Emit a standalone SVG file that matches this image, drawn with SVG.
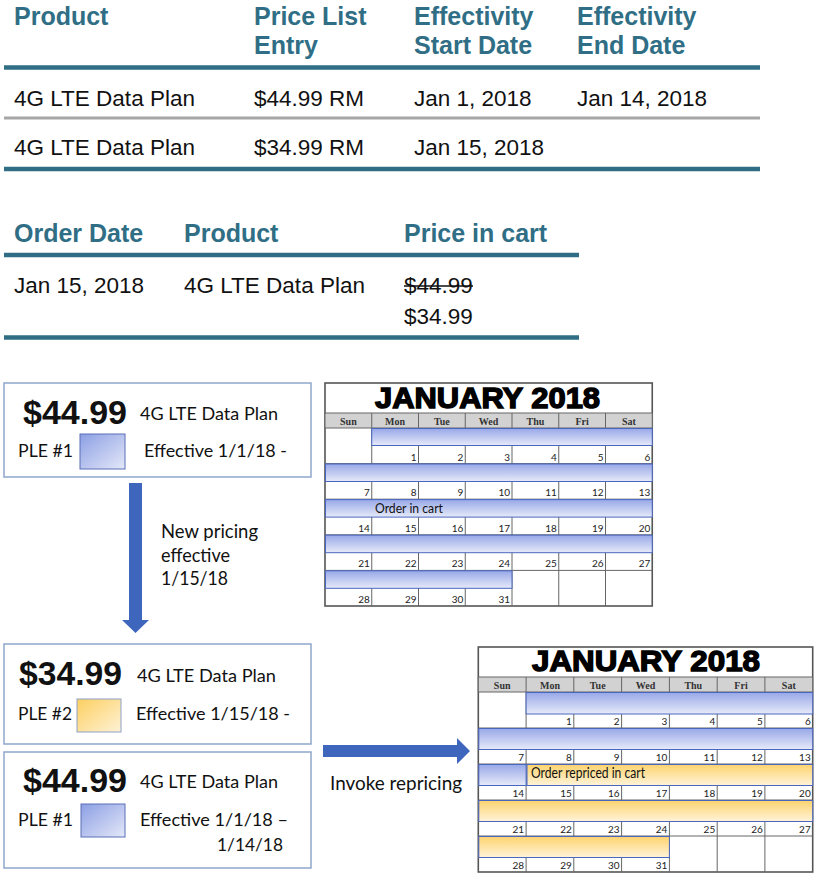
<svg xmlns="http://www.w3.org/2000/svg" width="817" height="875" viewBox="0 0 817 875">
<style>
.hd{font-family:"Liberation Sans",Arial,sans-serif;font-weight:bold;font-size:25px;fill:#2f6e85}
.td{font-family:"Liberation Sans",Arial,sans-serif;font-size:22.5px;fill:#111}
.tl{stroke:#2f6e85;stroke-width:4.5}
.big{font-family:"Liberation Sans",Arial,sans-serif;font-weight:bold;font-size:33px;fill:#111}
.cb{font-family:Lato,"Noto Sans",sans-serif;font-size:16.5px;fill:#111}
.lbl{font-family:Lato,"Noto Sans",sans-serif;font-size:18.5px;fill:#111}
.box{fill:#fff;stroke:#8fa6cc;stroke-width:1.5}
.ttl{font-family:"Liberation Sans",Arial,sans-serif;font-weight:bold;font-size:29px;fill:#000;stroke:#000;stroke-width:1.4}
.day{font-family:"Liberation Serif","Times New Roman",serif;font-weight:bold;font-size:10px;fill:#333;text-anchor:middle}
.num{font-family:Lato,"Noto Sans",sans-serif;font-size:10px;fill:#222;text-anchor:end}
.grid{stroke:#666;stroke-width:1;fill:none}
.cal{fill:#fff;stroke:#555;stroke-width:1.6}
.hdr{fill:#d2d2d2;stroke:#666;stroke-width:1}
.bb{fill:url(#gb);stroke:#4a67c0;stroke-width:1}
.bo{fill:url(#go);stroke:#4a67c0;stroke-width:1}
.bar{font-family:Lato,"Noto Sans",sans-serif;fill:#111}
.arr{fill:#3f66bd}
</style>
<defs>
<linearGradient id="gb" x1="0" y1="0" x2="0" y2="1"><stop offset="0" stop-color="#98a8e8"/><stop offset="1" stop-color="#e6eaf9"/></linearGradient>
<linearGradient id="go" x1="0" y1="0" x2="0" y2="1"><stop offset="0" stop-color="#fcd36e"/><stop offset="1" stop-color="#fff3d9"/></linearGradient>
<linearGradient id="sb" x1="0" y1="0" x2="1" y2="1"><stop offset="0" stop-color="#8c9fe4"/><stop offset="1" stop-color="#e4e8f8"/></linearGradient>
<linearGradient id="so" x1="0" y1="0" x2="1" y2="1"><stop offset="0" stop-color="#fccf60"/><stop offset="1" stop-color="#fef2d6"/></linearGradient>
</defs>

<g id="price-list-table">
<text class="hd" x="14" y="25">Product</text>
<text class="hd" x="254" y="25">Price List</text>
<text class="hd" x="254" y="54">Entry</text>
<text class="hd" x="414" y="25">Effectivity</text>
<text class="hd" x="414" y="54">Start Date</text>
<text class="hd" x="577" y="25">Effectivity</text>
<text class="hd" x="577" y="54">End Date</text>
<line class="tl" x1="4" y1="67.5" x2="760" y2="67.5"/>
<text class="td" x="14" y="106">4G LTE Data Plan</text>
<text class="td" x="254" y="106">$44.99 RM</text>
<text class="td" x="414" y="106">Jan 1, 2018</text>
<text class="td" x="577" y="106">Jan 14, 2018</text>
<line x1="4" y1="118" x2="760" y2="118" stroke="#a6a6a6" stroke-width="3"/>
<text class="td" x="14" y="155">4G LTE Data Plan</text>
<text class="td" x="254" y="155">$34.99 RM</text>
<text class="td" x="414" y="155">Jan 15, 2018</text>
<line class="tl" x1="4" y1="169" x2="760" y2="169"/>
</g>

<g id="cart-table">
<text class="hd" x="14" y="242">Order Date</text>
<text class="hd" x="184" y="242">Product</text>
<text class="hd" x="404" y="242">Price in cart</text>
<line class="tl" x1="4" y1="255" x2="579" y2="255"/>
<text class="td" x="14" y="293">Jan 15, 2018</text>
<text class="td" x="184" y="293">4G LTE Data Plan</text>
<text class="td" x="404" y="293">$44.99</text>
<line x1="404" y1="286" x2="473" y2="286" stroke="#111" stroke-width="1.5"/>
<text class="td" x="404" y="324">$34.99</text>
<line class="tl" x1="4" y1="337.5" x2="579" y2="337.5"/>
</g>

<g id="ple1-box">
<rect class="box" x="4" y="383" width="307" height="94"/>
<text class="big" x="23" y="424" textLength="104" lengthAdjust="spacingAndGlyphs">$44.99</text>
<text class="cb" x="140" y="420" textLength="138" lengthAdjust="spacingAndGlyphs">4G LTE Data Plan</text>
<text class="cb" x="18" y="457" textLength="55" lengthAdjust="spacingAndGlyphs">PLE #1</text>
<rect x="80" y="434" width="45" height="35" fill="url(#sb)" stroke="#5a6fb8" stroke-width="1"/>
<text class="cb" x="144" y="457" textLength="143" lengthAdjust="spacingAndGlyphs">Effective 1/1/18 -</text>
</g>

<g id="ple2-box">
<rect class="box" x="4" y="644" width="307" height="100"/>
<text class="big" x="19" y="685" textLength="103" lengthAdjust="spacingAndGlyphs">$34.99</text>
<text class="cb" x="137" y="682" textLength="139" lengthAdjust="spacingAndGlyphs">4G LTE Data Plan</text>
<text class="cb" x="18" y="720" textLength="54" lengthAdjust="spacingAndGlyphs">PLE #2</text>
<rect x="77" y="699" width="44" height="33" fill="url(#so)" stroke="#8ea0c8" stroke-width="1"/>
<text class="cb" x="136" y="720" textLength="154" lengthAdjust="spacingAndGlyphs">Effective 1/15/18 -</text>
</g>

<g id="ple1-box-ended">
<rect class="box" x="4" y="752" width="307" height="116"/>
<text class="big" x="23" y="792" textLength="104" lengthAdjust="spacingAndGlyphs">$44.99</text>
<text class="cb" x="140" y="788" textLength="138" lengthAdjust="spacingAndGlyphs">4G LTE Data Plan</text>
<text class="cb" x="18" y="826" textLength="55" lengthAdjust="spacingAndGlyphs">PLE #1</text>
<rect x="81" y="804" width="44" height="33" fill="url(#sb)" stroke="#5a6fb8" stroke-width="1"/>
<text class="cb" x="140" y="826" textLength="148" lengthAdjust="spacingAndGlyphs">Effective 1/1/18 –</text>
<text class="cb" x="217" y="851" textLength="66" lengthAdjust="spacingAndGlyphs">1/14/18</text>
</g>

<g id="calendar-1">
<rect class="cal" x="325" y="383" width="327.25" height="223"/>
<text class="ttl" x="375" y="408" textLength="225" lengthAdjust="spacingAndGlyphs">JANUARY 2018</text>
<rect class="hdr" x="325" y="413" width="327.25" height="15"/>
<path class="grid" d="M371.75 413V606M418.5 413V606M465.25 413V606M512 413V606M558.75 413V606M605.5 413V606M325 463.6H652.25M325 499.2H652.25M325 534.8H652.25M325 570.4H652.25"/>
<g class="day">
<text x="348.4" y="424.5">Sun</text><text x="395.1" y="424.5">Mon</text><text x="441.9" y="424.5">Tue</text><text x="488.6" y="424.5">Wed</text><text x="535.4" y="424.5">Thu</text><text x="582.1" y="424.5">Fri</text><text x="628.9" y="424.5">Sat</text>
</g>
<rect class="bb" x="371.75" y="428.5" width="280.5" height="17"/>
<rect class="bb" x="325.5" y="464" width="326.75" height="17.5"/>
<rect class="bb" x="325.5" y="499.6" width="326.75" height="17.5"/>
<rect class="bb" x="325.5" y="535.2" width="326.75" height="17.5"/>
<rect class="bb" x="325.5" y="570.8" width="186.5" height="17.5"/>
<text class="bar" x="375" y="512.5" font-size="12.5" textLength="68" lengthAdjust="spacingAndGlyphs">Order in cart</text>
<g class="num">
<text x="416.5" y="460.6">1</text><text x="463.25" y="460.6">2</text><text x="510" y="460.6">3</text><text x="556.75" y="460.6">4</text><text x="603.5" y="460.6">5</text><text x="650.25" y="460.6">6</text>
<text x="369.75" y="496.2">7</text><text x="416.5" y="496.2">8</text><text x="463.25" y="496.2">9</text><text x="510" y="496.2">10</text><text x="556.75" y="496.2">11</text><text x="603.5" y="496.2">12</text><text x="650.25" y="496.2">13</text>
<text x="369.75" y="531.8">14</text><text x="416.5" y="531.8">15</text><text x="463.25" y="531.8">16</text><text x="510" y="531.8">17</text><text x="556.75" y="531.8">18</text><text x="603.5" y="531.8">19</text><text x="650.25" y="531.8">20</text>
<text x="369.75" y="567.4">21</text><text x="416.5" y="567.4">22</text><text x="463.25" y="567.4">23</text><text x="510" y="567.4">24</text><text x="556.75" y="567.4">25</text><text x="603.5" y="567.4">26</text><text x="650.25" y="567.4">27</text>
<text x="369.75" y="603">28</text><text x="416.5" y="603">29</text><text x="463.25" y="603">30</text><text x="510" y="603">31</text>
</g>
</g>

<g id="calendar-2">
<rect class="cal" x="478.3" y="647" width="334.4" height="225"/>
<text class="ttl" x="532" y="671" textLength="228" lengthAdjust="spacingAndGlyphs">JANUARY 2018</text>
<rect class="hdr" x="478.3" y="677" width="334.4" height="15"/>
<path class="grid" d="M526.1 677V872M573.8 677V872M621.6 677V872M669.4 677V872M717.2 677V872M764.9 677V872M478.3 728H812.7M478.3 764H812.7M478.3 800H812.7M478.3 836H812.7"/>
<g class="day" font-size="10.5">
<text x="502.2" y="688.5">Sun</text><text x="550" y="688.5">Mon</text><text x="597.7" y="688.5">Tue</text><text x="645.5" y="688.5">Wed</text><text x="693.3" y="688.5">Thu</text><text x="741" y="688.5">Fri</text><text x="788.8" y="688.5">Sat</text>
</g>
<rect class="bb" x="526.1" y="692.5" width="286.6" height="21.5"/>
<rect class="bb" x="478.8" y="728.5" width="333.9" height="21"/>
<rect class="bb" x="478.8" y="764.5" width="47.3" height="21"/>
<rect class="bo" x="527" y="764.5" width="285.7" height="21"/>
<rect class="bo" x="478.8" y="800.5" width="333.9" height="21"/>
<rect class="bo" x="478.8" y="836.5" width="190.6" height="21"/>
<text class="bar" x="531" y="777.5" font-size="15.5" textLength="114" lengthAdjust="spacingAndGlyphs">Order repriced in cart</text>
<g class="num" font-size="10.5">
<text x="571.8" y="725">1</text><text x="619.6" y="725">2</text><text x="667.4" y="725">3</text><text x="715.2" y="725">4</text><text x="762.9" y="725">5</text><text x="810.7" y="725">6</text>
<text x="524.1" y="761">7</text><text x="571.8" y="761">8</text><text x="619.6" y="761">9</text><text x="667.4" y="761">10</text><text x="715.2" y="761">11</text><text x="762.9" y="761">12</text><text x="810.7" y="761">13</text>
<text x="524.1" y="797">14</text><text x="571.8" y="797">15</text><text x="619.6" y="797">16</text><text x="667.4" y="797">17</text><text x="715.2" y="797">18</text><text x="762.9" y="797">19</text><text x="810.7" y="797">20</text>
<text x="524.1" y="833">21</text><text x="571.8" y="833">22</text><text x="619.6" y="833">23</text><text x="667.4" y="833">24</text><text x="715.2" y="833">25</text><text x="762.9" y="833">26</text><text x="810.7" y="833">27</text>
<text x="524.1" y="869">28</text><text x="571.8" y="869">29</text><text x="619.6" y="869">30</text><text x="667.4" y="869">31</text>
</g>
</g>

<g id="connectors">
<polygon class="arr" points="129,483 142,483 142,620 149,620 135.5,633 122,620 129,620"/>
<text class="lbl" x="161" y="538" textLength="97" lengthAdjust="spacingAndGlyphs">New pricing</text>
<text class="lbl" x="161" y="562" textLength="69" lengthAdjust="spacingAndGlyphs">effective</text>
<text class="lbl" x="161" y="585" textLength="67" lengthAdjust="spacingAndGlyphs">1/15/18</text>
<polygon class="arr" points="323,745 457,745 457,738 470,751 457,764 457,757 323,757"/>
<text class="lbl" x="330" y="790" textLength="132" lengthAdjust="spacingAndGlyphs">Invoke repricing</text>
</g>
</svg>
